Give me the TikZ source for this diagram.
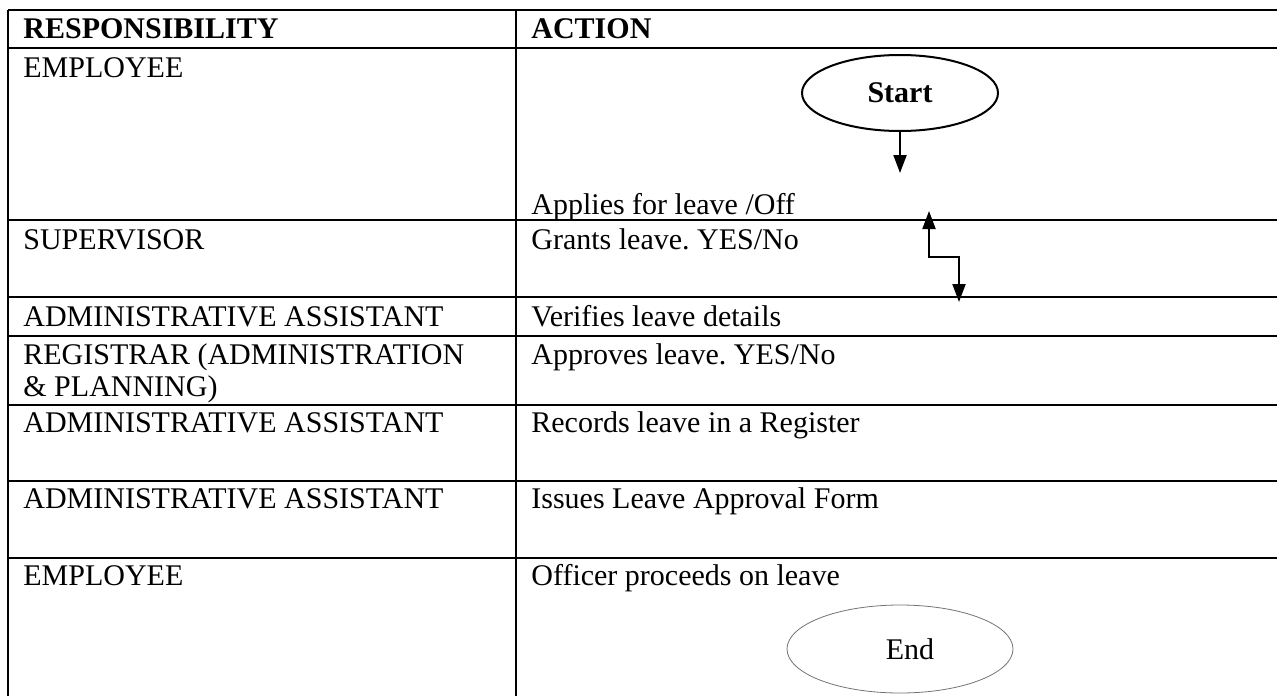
\documentclass[tikz,border=0pt]{standalone}
\usepackage{fontspec}
\setmainfont{Liberation Serif}
\usetikzlibrary{arrows.meta}
\usetikzlibrary{shapes.geometric}

\begin{document}
\begin{tikzpicture}[
    x=0.5pt, y=-0.5pt,
    cellText/.style={
        anchor=base west, inner sep=0pt,
        font=\fontsize{15}{15.5}\selectfont\frenchspacing
    },
    headText/.style={cellText, font=\fontsize{15}{15.5}\selectfont\bfseries},
    tableLine/.style={line width=1.3pt},
    flowOval/.style={
        ellipse, draw, inner sep=0pt,
        minimum width=98pt,
        minimum height=38pt,
        font=\fontsize{15}{15.5}\selectfont
    },
    flowArrow/.style={line width=1pt, -{Triangle[width=6.5pt,length=9pt]}}
]
\useasboundingbox (0,0) rectangle (1277,696);

% table grid
\foreach \rowY in {10,48,220,297,336,405,481,558}
    \draw[tableLine] (8,\rowY) -- (1277,\rowY);
\draw[tableLine] (8,10) -- (8,696);
\draw[tableLine] (516,10) -- (516,696);

% responsibility column
\node[headText] (respHead) at (23,38) {RESPONSIBILITY};
\node[cellText] (respEmployee) at (23,77) {EMPLOYEE};
\node[cellText] (respSupervisor) at (23,249) {SUPERVISOR};
\node[cellText] (respAssistantA) at (23,326) {ADMINISTRATIVE ASSISTANT};
\node[cellText] (respRegistrar) at (23,364) {REGISTRAR (ADMINISTRATION};
\node[cellText] (respRegistrarB) at (23,396) {\& PLANNING)};
\node[cellText] (respAssistantB) at (23,432) {ADMINISTRATIVE ASSISTANT};
\node[cellText] (respAssistantC) at (23,508) {ADMINISTRATIVE ASSISTANT};
\node[cellText] (respOfficer) at (23,585) {EMPLOYEE};

% action column
\node[headText] (actHead) at (531,38) {ACTION};
\node[cellText] (actApply) at (531,214) {Applies for leave /Off};
\node[cellText] (actGrant) at (531,249) {Grants leave. YES/No};
\node[cellText] (actVerify) at (531,326) {Verifies leave details};
\node[cellText] (actApprove) at (531,364) {Approves leave. YES/No};
\node[cellText] (actRecord) at (531,432) {Records leave in a Register};
\node[cellText] (actIssue) at (531,508) {Issues Leave Approval Form};
\node[cellText] (actProceed) at (531,585) {Officer proceeds on leave};

% flow symbols
\node[flowOval, line width=1pt, font=\fontsize{15}{15}\selectfont\bfseries] (start) at (900,93) {Start};
\node[flowOval, draw=black!55, line width=0.4pt, minimum width=113pt, minimum height=44pt] (stop) at (900,649) {\hspace*{10pt}End};

\coordinate (startTip) at (900,173);
\coordinate (loopTop) at (929,211);
\coordinate (loopBottom) at (959,302);

\draw[flowArrow] (start) -- (startTip);
\draw[flowArrow, {Triangle[width=6.5pt,length=9pt]}-{Triangle[width=6.5pt,length=9pt]}]
    (loopTop) -- ++(0,46) -| (loopBottom);
\end{tikzpicture}
\end{document}
